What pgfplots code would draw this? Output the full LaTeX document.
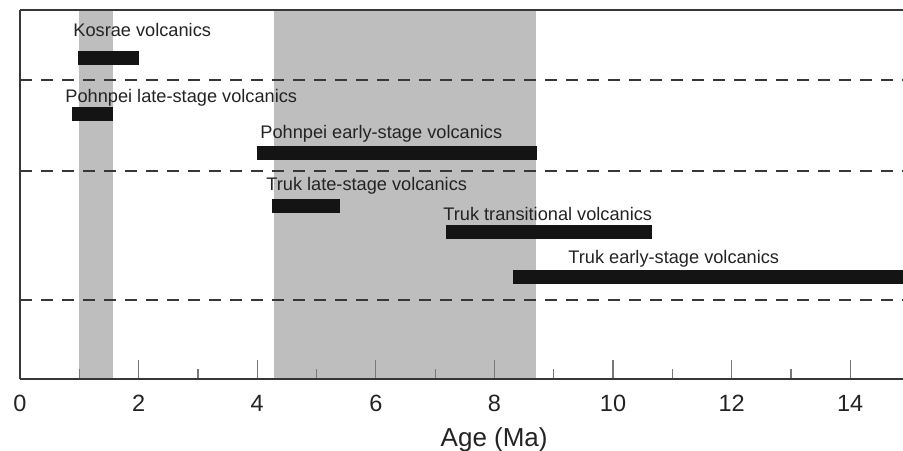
\documentclass[border=0pt]{standalone}
\usepackage{pgfplots}
\pgfplotsset{compat=1.18}
\usepackage{fontspec}
\setmainfont{Liberation Sans}
\definecolor{band}{RGB}{190,190,190}
\definecolor{barc}{RGB}{20,20,20}
\definecolor{axc}{RGB}{55,55,55}
\definecolor{tickc}{RGB}{120,120,120}
\definecolor{txt}{RGB}{35,35,35}
\begin{document}
\begin{tikzpicture}
\begin{axis}[
  at={(0,0)}, anchor=south west,
  scale only axis, width=441.5pt, height=184.5pt,
  xmin=0, xmax=14.89, ymin=0, ymax=369,
  axis x line*=box, axis y line*=left,
  axis line style={draw=axc, line width=0.75pt},
  axis on top,
  xtick={0,2,...,14}, minor xtick={1,3,...,13},
  xtick pos=bottom, ytick=\empty,
  tick align=inside,
  major tick length=9.5pt, minor tick length=5pt,
  every tick/.style={draw=tickc, line width=0.6pt},
  /pgf/number format/assume math mode=true,
  xticklabel style={font=\fontsize{11.75}{14}\selectfont, text=txt, anchor=base, yshift=-16.2pt},
  xlabel={Age (Ma)},
  xlabel style={at={(axis description cs:0.537,0)}, anchor=base, yshift=-33.5pt, font=\fontsize{13}{15}\selectfont, text=txt},
]
% grey age bands
\addplot[fill=band, draw=none] coordinates {(1.0,0) (1.56,0) (1.56,369) (1.0,369)} -- cycle;
\addplot[fill=band, draw=none] coordinates {(4.29,0) (8.70,0) (8.70,369) (4.29,369)} -- cycle;
% dashed separators
\addplot[draw=axc, line width=0.8pt, dash pattern=on 6pt off 4.5pt] coordinates {(0,299) (14.89,299)};
\addplot[draw=axc, line width=0.8pt, dash pattern=on 6pt off 4.5pt] coordinates {(0,208) (14.89,208)};
\addplot[draw=axc, line width=0.8pt, dash pattern=on 6pt off 4.5pt] coordinates {(0,79) (14.89,79)};
% age ranges
\addplot[draw=barc, line width=7pt] coordinates {(0.97,321) (2.01,321)};
\addplot[draw=barc, line width=7pt] coordinates {(0.87,265) (1.57,265)};
\addplot[draw=barc, line width=7pt] coordinates {(3.99,226.3) (8.71,226.3)};
\addplot[draw=barc, line width=7pt] coordinates {(4.25,173) (5.40,173)};
\addplot[draw=barc, line width=7pt] coordinates {(7.18,147) (10.66,147)};
\addplot[draw=barc, line width=7pt] coordinates {(8.32,102) (14.95,102)};
% labels
\begin{scope}[every node/.style={anchor=base west, inner sep=0pt, font=\fontsize{9.1}{11}\selectfont, text=txt}]
\node at (axis cs:0.894,342.3) {Kosrae volcanics};
\node at (axis cs:0.759,276.3) {Pohnpei late-stage volcanics};
\node at (axis cs:4.047,240.7) {Pohnpei early-stage volcanics};
\node at (axis cs:4.148,188.3) {Truk late-stage volcanics};
\node at (axis cs:7.133,159) {Truk transitional volcanics};
\node at (axis cs:9.241,115.7) {Truk early-stage volcanics};
\end{scope}
\end{axis}
\pgfresetboundingbox
\path[use as bounding box] (-10pt,-35.5pt) rectangle (441.5pt,189.5pt);
\end{tikzpicture}
\end{document}
